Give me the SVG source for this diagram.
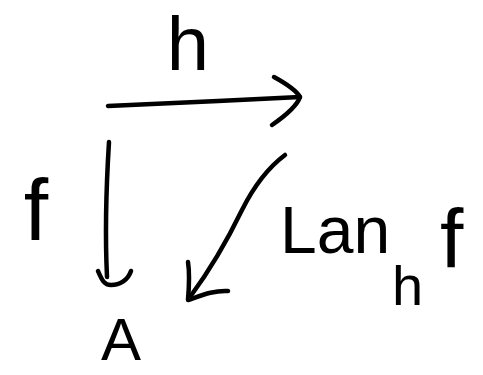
<svg xmlns="http://www.w3.org/2000/svg" width="483" height="375" viewBox="0 0 483 375">
<style>
.s{fill:none;stroke:#000;stroke-width:4.5;stroke-linecap:round;stroke-linejoin:round}
.t{font-family:"Liberation Sans",Arial,sans-serif;fill:#000}
</style>
<rect width="483" height="375" fill="#fff"/>
<g id="connectors">
<g id="edge-h">
<path class="s" d="M108,106 C160,104 240,100 300,97"/>
<path class="s" d="M274,77 C285,83 296,90 300,97 C297,106 285,116 272,125"/>
</g>
<g id="edge-f">
<path class="s" d="M109,142 C106,190 105,235 107,277"/>
<path class="s" d="M98,271 C102,280 104,285 111,285 C120,285 128,280 131,271"/>
</g>
<g id="edge-lan">
<path class="s" d="M285,155 C265,170 252,190 242,210 C225,245 210,270 190,297"/>
<path class="s" d="M188,262 C190,275 189,288 188,300 C200,296 214,290 228,291"/>
</g>
</g>
<g id="node-A"><text class="t" x="121" y="360" font-size="60" text-anchor="middle">A</text></g>
<g id="label-h"><text class="t" x="188" y="70" font-size="76" text-anchor="middle">h</text></g>
<g id="label-f"><text class="t" x="36" y="240" font-size="88" text-anchor="middle">f</text></g>
<g id="label-lan">
<text class="t" x="280" y="253" font-size="66">Lan</text>
<text class="t" x="392" y="305" font-size="56">h</text>
<text class="t" x="440" y="268" font-size="84">f</text>
</g>
</svg>
